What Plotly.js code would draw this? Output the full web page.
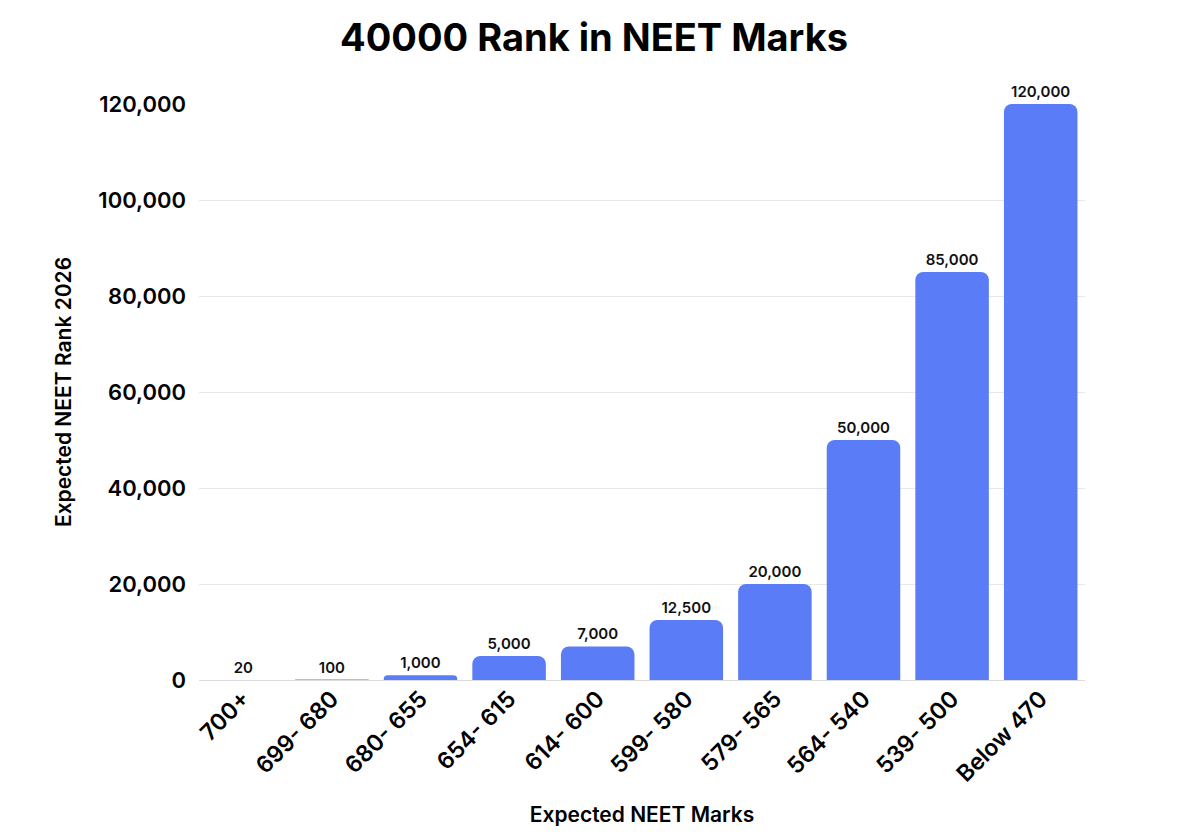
<!DOCTYPE html>
<html>
<head>
<meta charset="utf-8">
<script src="https://cdn.plot.ly/plotly-3.0.1.min.js"></script>
<style>html,body{margin:0;padding:0;background:#fff}#chart{width:1200px;height:840px}</style>
</head>
<body>
<div id="chart"></div>
<script>
const categories = ["700+", "699- 680", "680- 655", "654- 615", "614- 600", "599- 580", "579- 565", "564- 540", "539- 500", "Below 470"];
const ranks = [20, 100, 1000, 5000, 7000, 12500, 20000, 50000, 85000, 120000];
const rankLabels = ["20", "100", "1,000", "5,000", "7,000", "12,500", "20,000", "50,000", "85,000", "120,000"];
const yTicks = [0, 20000, 40000, 60000, 80000, 100000, 120000];
const yTickLabels = ["0", "20,000", "40,000", "60,000", "80,000", "100,000", "120,000"];

const font = "Inter, 'Open Sans', sans-serif";

Plotly.newPlot("chart", [{
  type: "bar",
  x: categories,
  y: ranks,
  text: rankLabels,
  textposition: "outside",
  cliponaxis: false,
  textfont: {family: font, size: 15, color: "#111", weight: 600},
  marker: {color: "#5b7cf7", cornerradius: 8},
  hoverinfo: "none"
}], {
  width: 1200, height: 840,
  margin: {l: 199, r: 115, t: 104, b: 160},
  paper_bgcolor: "#fff", plot_bgcolor: "#fff",
  bargap: 0.17,
  showlegend: false,
  title: {text: "40000 Rank in NEET Marks", x: 0.495, xanchor: "center", y: 0.955, yanchor: "middle",
          font: {family: font, size: 38, color: "#000", weight: 700}},
  xaxis: {
    type: "category",
    tickangle: -45,
    tickfont: {family: font, size: 23, color: "#000", weight: 600},
    showgrid: false,
    showline: false,
    ticks: "",
    title: {text: "Expected NEET Marks", standoff: 20, font: {family: font, size: 21, color: "#000", weight: 600}}
  },
  yaxis: {
    range: [0, 120000],
    tickvals: yTicks,
    ticktext: yTickLabels,
    tickfont: {family: font, size: 22, color: "#000", weight: 600},
    gridcolor: "#e8e8e8",
    gridwidth: 1,
    zeroline: true,
    zerolinecolor: "#dcdcdc",
    zerolinewidth: 1,
    ticklabelstandoff: 12,
    title: {text: "Expected NEET Rank 2026", standoff: 20, font: {family: font, size: 21, color: "#000", weight: 600}}
  }
}, {displayModeBar: false, staticPlot: true});
</script>
</body>
</html>
